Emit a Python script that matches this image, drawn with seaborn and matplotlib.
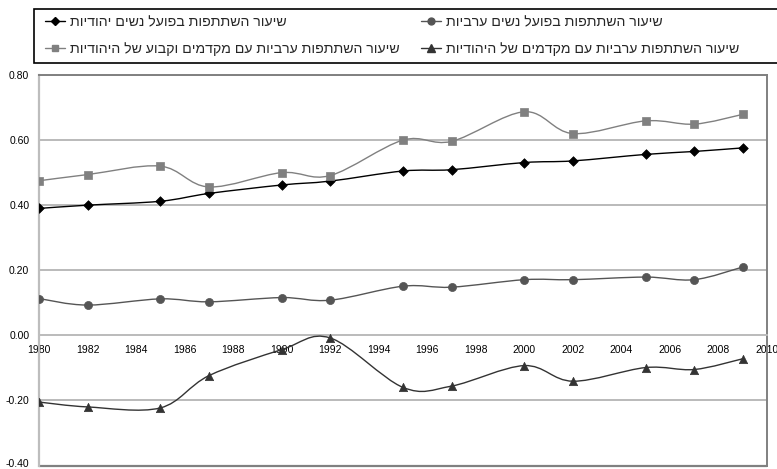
import numpy as np
import pandas as pd
import matplotlib
matplotlib.use("Agg")
import matplotlib.pyplot as plt
import seaborn as sns
from matplotlib.path import Path
from matplotlib.patches import PathPatch, Rectangle
from matplotlib.lines import Line2D
from matplotlib.ticker import FormatStrFormatter
import matplotlib.transforms as mtransforms

# ---- data ----
years = [1980, 1982, 1985, 1987, 1990, 1992, 1995, 1997, 2000, 2002, 2005, 2007, 2009]
jewish_actual = [0.390, 0.400, 0.412, 0.436, 0.462, 0.474, 0.505, 0.509, 0.531, 0.536, 0.556, 0.565, 0.576]
arab_actual = [0.113, 0.093, 0.112, 0.103, 0.116, 0.108, 0.151, 0.148, 0.171, 0.171, 0.179, 0.171, 0.210]
arab_jcoef_const = [0.475, 0.494, 0.520, 0.456, 0.500, 0.491, 0.600, 0.596, 0.687, 0.620, 0.659, 0.649, 0.679]
arab_jcoef = [-0.205, -0.220, -0.223, -0.124, -0.044, -0.008, -0.160, -0.156, -0.093, -0.141, -0.099, -0.105, -0.072]

lbl_jewish = "שיעור השתתפות בפועל נשים יהודיות"
lbl_arab = "שיעור השתתפות בפועל נשים ערביות"
lbl_arab_jc = "שיעור השתתפות ערביות עם מקדמים וקבוע של היהודיות"
lbl_arab_j = "שיעור השתתפות ערביות עם מקדמים של היהודיות"

x_ticks = list(range(1980, 2011, 2))
y_ticks = [-0.4, -0.2, 0.0, 0.2, 0.4, 0.6, 0.8]

# ---- style ----
sns.set_style("white")
plt.rcParams["font.family"] = ["Liberation Sans", "DejaVu Sans"]
plt.rcParams["axes.unicode_minus"] = False

def vis(s):
    # display order for right-to-left text
    return s[::-1]

fig = plt.figure(figsize=(7.77, 4.69), dpi=100)
ax = fig.add_axes([39 / 777, 1 - 465.5 / 469, (767 - 39) / 777, (465.5 - 75) / 469])

def smooth_path(xs, ys):
    xs = np.asarray(xs, float)
    ys = np.asarray(ys, float)
    pts = np.column_stack([xs, ys])
    verts = [pts[0]]
    codes = [Path.MOVETO]
    n = len(pts)
    for i in range(n - 1):
        p0 = pts[i - 1] if i > 0 else pts[i]
        p1 = pts[i]
        p2 = pts[i + 1]
        p3 = pts[i + 2] if i + 2 < n else pts[i + 1]
        c1 = p1 + (p2 - p0) / 6.0
        c2 = p2 - (p3 - p1) / 6.0
        verts += [c1, c2, p2]
        codes += [Path.CURVE4] * 3
    return Path(verts, codes)

series = [
    (jewish_actual, lbl_jewish, "#000000", "D", 24, 1.0),
    (arab_jcoef_const, lbl_arab_jc, "#808080", "s", 34, 1.0),
    (arab_actual, lbl_arab, "#555555", "o", 34, 1.0),
    (arab_jcoef, lbl_arab_j, "#333333", "^", 36, 1.0),
]

handles = []
labels = []
for vals, lbl, col, mk, sz, lw in series:
    df = pd.DataFrame({"year": years, "value": vals})
    patch = PathPatch(smooth_path(df["year"], df["value"]), facecolor="none",
                      edgecolor=col, lw=lw, zorder=3)
    ax.add_patch(patch)
    sns.scatterplot(data=df, x="year", y="value", marker=mk, s=sz, color=col,
                    edgecolor=col, linewidth=0.5, ax=ax, zorder=4, legend=False)
    handles.append(Line2D([0], [0], color=col, lw=lw, marker=mk,
                          markersize=np.sqrt(sz) * 0.85, markeredgecolor=col))
    labels.append(vis(lbl))

ax.set_xlim(1980, 2010)
ax.set_ylim(-0.4, 0.8)
ax.set_xticks(x_ticks)
ax.set_yticks(y_ticks)
ax.yaxis.set_major_formatter(FormatStrFormatter("%.2f"))
ax.set_xlabel("")
ax.set_ylabel("")

ax.grid(axis="y", color="#b4b4b4", lw=1.3)
ax.grid(axis="x", visible=False)
ax.set_axisbelow(True)

for s in ["top", "right"]:
    ax.spines[s].set_color("#808080")
    ax.spines[s].set_linewidth(1.4)
ax.spines["left"].set_color("#bdbdbd")
ax.spines["left"].set_linewidth(1.6)
ax.spines["bottom"].set_position(("data", 0))
ax.spines["bottom"].set_color("#bdbdbd")
ax.spines["bottom"].set_linewidth(1.3)
ax.axhline(-0.4, color="#808080", lw=1.6, zorder=2, clip_on=False)

ax.tick_params(axis="x", direction="out", length=4, width=1, color="#bdbdbd",
               labelsize=7.5, pad=3, labelcolor="#000000")
ax.tick_params(axis="y", length=0, labelsize=7.5, pad=7, labelcolor="#000000")

# keep the lowest y label inside the picture
fig.canvas.draw()
for t in ax.get_yticklabels():
    if t.get_text() == "-0.40":
        t.set_transform(t.get_transform() +
                        mtransforms.ScaledTranslation(0, 3 / 100, fig.dpi_scale_trans))

# legend box
fig.patches.append(Rectangle((34 / 777, 1 - 63 / 469), 1.0, (63 - 9) / 469,
                             transform=fig.transFigure, facecolor="white",
                             edgecolor="#000000", lw=1.2, zorder=0))

fig.legend(handles, labels, ncol=2, loc="upper left",
           bbox_to_anchor=(45 / 777, 1 - 15 / 469), frameon=False,
           fontsize=10.2, handlelength=1.42, handletextpad=0.35,
           columnspacing=1.5, labelspacing=0.93, borderpad=0, borderaxespad=0)

fig.savefig("out.png", dpi=100)
